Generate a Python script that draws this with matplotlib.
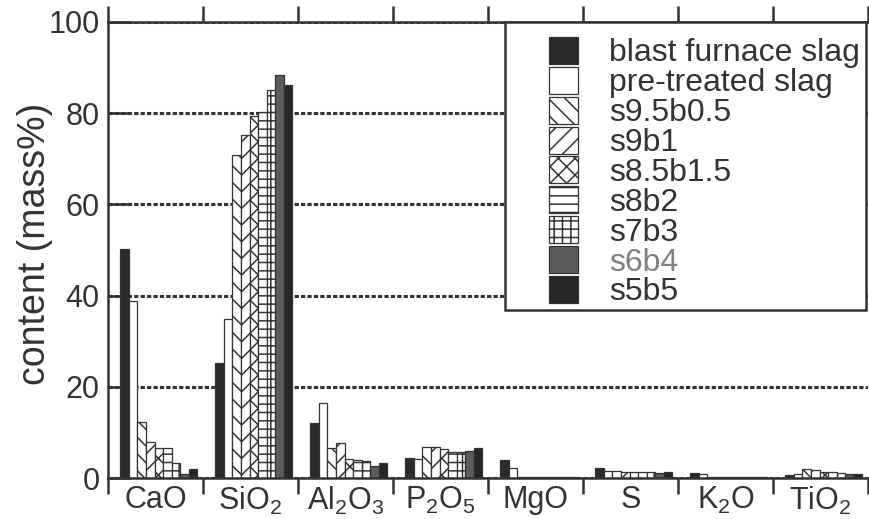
import matplotlib.pyplot as plt
import numpy as np
from matplotlib.patches import Rectangle

plt.rcParams['font.family'] = ['Liberation Sans', 'DejaVu Sans']
plt.rcParams['mathtext.fontset'] = 'custom'
plt.rcParams['mathtext.rm'] = 'Liberation Sans'
plt.rcParams['hatch.linewidth'] = 1.1

# oxide categories (x axis)
oxides = ['CaO', r'SiO$_\mathregular{2}$', r'Al$_\mathregular{2}$O$_\mathregular{3}$',
          r'P$_\mathregular{2}$O$_\mathregular{5}$', 'MgO', 'S', r'K$_\mathregular{2}$O',
          r'TiO$_\mathregular{2}$']

samples = ['blast furnace slag', 'pre-treated slag', 's9.5b0.5', 's9b1',
           's8.5b1.5', 's8b2', 's7b3', 's6b4', 's5b5']

# content (mass%) per sample, in oxide order
blast_furnace = [50.2, 25.3, 12.1, 4.4, 4.1, 2.3, 1.2, 0.7]
pre_treated = [38.9, 34.8, 16.5, 4.3, 2.3, 1.6, 0.9, 0.9]
s9_5b0_5 = [12.3, 70.9, 6.6, 6.8, 0.3, 1.5, 0.3, 2.1]
s9b1 = [7.9, 75.2, 7.7, 6.8, 0.3, 1.4, 0.3, 1.9]
s8_5b1_5 = [6.7, 79.3, 4.3, 6.5, 0.3, 1.4, 0.3, 1.4]
s8b2 = [6.7, 80.3, 3.9, 5.8, 0.3, 1.3, 0.3, 1.3]
s7b3 = [3.3, 85.0, 3.7, 5.8, 0.3, 1.3, 0.3, 1.2]
s6b4 = [1.0, 88.3, 2.8, 6.0, 0.3, 1.2, 0.3, 1.0]
s5b5 = [2.0, 86.1, 3.3, 6.7, 0.3, 1.4, 0.3, 0.9]

series = [blast_furnace, pre_treated, s9_5b0_5, s9b1, s8_5b1_5, s8b2, s7b3, s6b4, s5b5]

ink = '#333333'
facecolors = ['#2b2b2b', 'white', 'white', 'white', 'white', 'white', 'white', '#5c5c5c', '#262626']
hatches = [None, None, '\\\\', '//', 'xx', '--', '++', None, None]
label_colors = [ink] * 7 + ['#808080', ink]

fig = plt.figure(figsize=(8.7, 5.19), dpi=100)
ax = fig.add_axes([108 / 870, 1 - 478.3 / 519, 760 / 870, 456.6 / 519])

x = np.arange(len(oxides))
width = 0.09
handles = []
for i, (vals, fc, h) in enumerate(zip(series, facecolors, hatches)):
    pos = x - 0.37 + width * (i + 0.5)
    b = ax.bar(pos, vals, width, facecolor=fc, edgecolor=ink, hatch=h,
               linewidth=0.9, zorder=2)
    handles.append(b)

ax.set_xlim(-0.5, 7.5)
ax.set_ylim(0, 100)

# category labels at centers, tick marks at boundaries
ax.set_xticks(x)
ax.set_xticklabels(oxides, fontsize=22, color=ink)
ax.tick_params(axis='x', which='major', length=0, pad=5)
ax.set_xticks(np.arange(-0.5, 8, 1), minor=True)
ax.tick_params(axis='x', which='minor', direction='out', length=11.5, width=1.8,
               color=ink, top=True, bottom=True)

ax.set_yticks(range(0, 101, 20))
ax.tick_params(axis='y', direction='in', length=16.5, width=1.8, color=ink,
               labelsize=22, labelcolor=ink, pad=6)

ax.yaxis.grid(True, linestyle=(0, (1.4, 0.7)), linewidth=2.2, color=ink)
ax.set_axisbelow(True)

for side in ['left', 'top', 'bottom']:
    ax.spines[side].set_linewidth(1.8)
    ax.spines[side].set_color(ink)
ax.spines['right'].set_visible(False)

ax.set_ylabel('content (mass%)', fontsize=27, color=ink)
ax.yaxis.set_label_coords(-0.072, 0.514)

# legend box + entries
ax.add_patch(Rectangle((0.5224, 0.368), 0.475, 0.632, transform=ax.transAxes,
                       facecolor='white', edgecolor=ink, linewidth=1.8,
                       zorder=4, clip_on=False))
leg = ax.legend(handles, samples, loc='upper left',
                bbox_to_anchor=((549 - 108) / 760, (478.3 - 37) / 456.6),
                frameon=False, fontsize=23, handlelength=0.92, handleheight=0.92,
                handletextpad=0.95, labelspacing=-0.05, borderpad=0, borderaxespad=0)
leg.set_zorder(5)
for t, c in zip(leg.get_texts(), label_colors):
    t.set_color(c)

fig.savefig('out.png', dpi=100)
